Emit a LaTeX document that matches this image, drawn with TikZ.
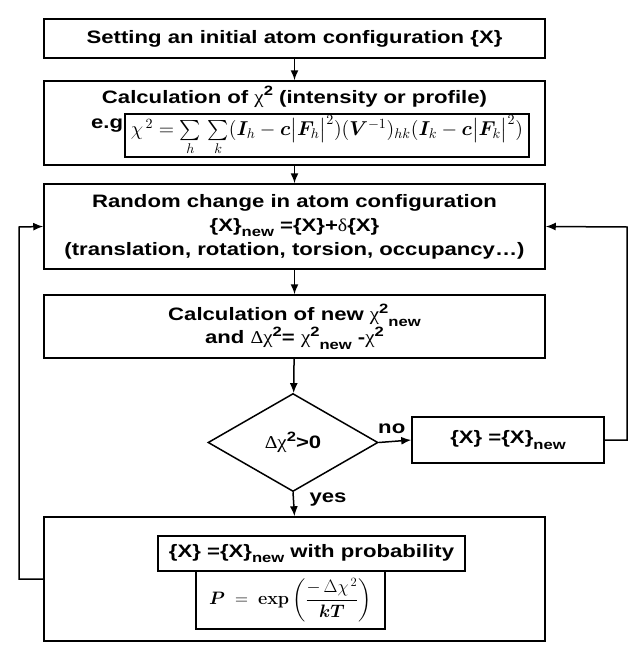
\documentclass[tikz,border=0pt]{standalone}
\usepackage{fix-cm}
\usepackage[no-math]{fontspec}
\usepackage{amsmath, amssymb}
\usepackage{bm}
\setmainfont[FakeStretch=1.23]{Liberation Sans}
\newfontfamily\grk[FakeStretch=1.1]{Liberation Serif}
\usepackage{tikz}
\usetikzlibrary{arrows,arrows.meta,shapes,positioning}

\newcommand{\gchi}{{\grk\mdseries\fontsize{19}{19}\selectfont χ}}
\newcommand{\gDelta}{{\grk\mdseries Δ}}
\newcommand{\gdelta}{{\grk\mdseries δ}}
\newcommand{\newsub}{\raisebox{-0.3em}{\fontsize{13.5}{13.5}\selectfont new}}
\newcommand{\twosup}{\raisebox{0.42em}{\fontsize{13.5}{13.5}\selectfont 2}}

\tikzset{
  flowbox/.style={draw, line width=1.5pt, minimum width=501pt, minimum height=#1, inner sep=0pt},
  smallbox/.style={draw, line width=1.5pt, inner sep=0pt},
  bigtext/.style={font=\bfseries\fontsize{18}{24}\selectfont, align=center},
  flow/.style={-{Latex[length=10pt, width=8pt]}, line width=1.5pt},
}

\begin{document}
\begin{tikzpicture}[x=1pt, y=-1pt]
      \useasboundingbox (0,0) rectangle (644,656);
      \node[flowbox=39pt, bigtext] (init) at (294.5,38.5) {Setting an initial atom configuration \{X\}}; % top
      \node[flowbox=84pt] (chisq) at (294.5,123) {};
      \node[bigtext, inner sep=0pt] (chititle) at (294.5,97) {Calculation of \gchi\twosup{} (intensity or profile)};
      \node[smallbox, minimum width=404pt, minimum height=43pt] (chiform) at (327,135.5)
        {\resizebox{392pt}{!}{\fontsize{15}{18}\selectfont $\chi^{\,2}=\sum\limits_{h}\,\sum\limits_{k}(\bm{I}_{h}-\bm{c}\bigl|\bm{F}_{h}\bigr|^{2})(\bm{V}^{-1})_{hk}(\bm{I}_{k}-\bm{c}\bigl|\bm{F}_{k}\bigr|^{2})$}};
      \node[bigtext, anchor=east, inner sep=1pt] (eg) at (chiform.west |- 0,126) {e.g};
      \node[flowbox=85pt, bigtext] (rand) at (294.5,226.5)
        {Random change in atom configuration\\
         \{X\}\newsub{} =\{X\}+\gdelta\{X\}\\
         (translation, rotation, torsion, occupancy\dots)};
      \node[flowbox=63pt, bigtext, font=\bfseries\fontsize{18}{23}\selectfont] (calc) at (294.5,326.5)
        {Calculation of new \gchi\twosup\newsub\\
         and \gDelta\gchi\twosup= \gchi\twosup\newsub{} -\gchi\twosup};
      \node[draw, diamond, line width=1.5pt, minimum width=170pt, minimum height=98pt, inner sep=0pt, bigtext] (test) at (293,442.5)
        {\gDelta\gchi\twosup>0};
      \node[smallbox, minimum width=192pt, minimum height=46pt, bigtext] (reset) at (508,440)
        {\{X\} =\{X\}\newsub};
      \node[flowbox=124pt] (accept) at (294.5,579) {};
      \node[smallbox, minimum width=307pt, minimum height=35pt, bigtext] (prob) at (311.5,553.5)
        {\{X\} =\{X\}\newsub{} with probability};
      \node[smallbox, minimum width=189pt, minimum height=58pt] (boltz) at (290.5,600)
        {\fontsize{18}{20}\selectfont $\bm{P}\;=\;\mathbf{exp}\left(\dfrac{-\,\Delta\chi^{\,2}}{\bm{kT}}\right)$};
      \coordinate (rloop) at (627,227); % right return
      \coordinate (lloop) at (19,227); % left return
      \draw[flow] (init) -- (chisq);
      \draw[flow] (chisq) -- (rand);
      \draw[flow] (rand) -- (calc);
      \draw[flow] (calc) -- (test);
      \draw[flow] (test.east) -- node[above=6pt, bigtext, pos=0.4, inner sep=1pt] {no} (reset.west);
      \draw[flow] (test.south) -- node[right, bigtext, pos=0.3, xshift=12pt] {yes} (accept.north);
      \draw[flow] (reset.east) -| (rloop) -- (rand.east);
      \draw[flow] (accept.west) -| (lloop) -- (rand.west);
    \end{tikzpicture}
\end{document}
